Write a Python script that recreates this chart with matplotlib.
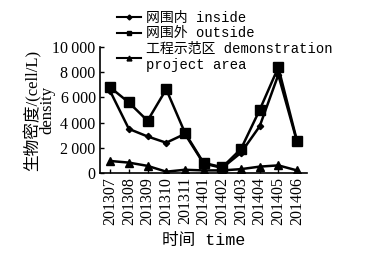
import matplotlib
matplotlib.use('Agg')

import matplotlib.pyplot as plt
from matplotlib.lines import Line2D
import numpy as np

plt.rcParams['font.family'] = ['Liberation Serif', 'Noto Sans CJK SC']
plt.rcParams['axes.unicode_minus'] = False

# data
months = ['201307', '201308', '201309', '201310', '201311', '201401',
          '201402', '201403', '201404', '201405', '201406']
inside = [6500, 3500, 2900, 2400, 3100, 750, 400, 1600, 3700, 7800, 2500]
outside = [6800, 5600, 4150, 6650, 3200, 800, 450, 1900, 5000, 8400, 2550]
demo = [950, 820, 560, 100, 250, 200, 200, 300, 500, 600, 200]
yticks = [0, 2000, 4000, 6000, 8000, 10000]
ytick_labels = ['0', '2\u2009000', '4\u2009000', '6\u2009000', '8\u2009000',
                '10\u2009000']
series_labels = ['网围内 inside', '网围外 outside',
                 '工程示范区 demonstration\nproject area']

mono_cjk = ['Liberation Mono', 'Noto Sans CJK SC']

fig = plt.figure(figsize=(3.77, 2.62), dpi=100)
ax = fig.add_axes([0.265, 0.34, 0.55, 0.48])

x = np.arange(len(months))
ax.plot(x, inside, color='black', lw=1.8, marker='D', ms=3.2)
ax.plot(x, outside, color='black', lw=1.8, marker='s', ms=6.5)
ax.plot(x, demo, color='black', lw=1.8, marker='^', ms=5.5)

ax.set_xlim(-0.55, len(months) - 0.45)
ax.set_ylim(0, 10000)
ax.set_xticks(x)
ax.set_xticklabels(months, rotation=90, fontsize=11.5)
ax.set_yticks(yticks)
ax.set_yticklabels(ytick_labels, fontsize=11.5)
ax.tick_params(direction='in', length=3, width=1, pad=3)
ax.spines['top'].set_visible(False)
ax.spines['right'].set_visible(False)
ax.spines['left'].set_linewidth(1.2)
ax.spines['bottom'].set_linewidth(1.2)

ax.set_ylabel('生物密度/(cell/L)\ndensity', fontsize=12, linespacing=0.85)
ax.yaxis.set_label_coords(-0.215, 0.5)
ax.set_xlabel('时间 time', fontsize=12, family=mono_cjk, labelpad=6)

# legend with smaller markers than the plotted lines
handles = [Line2D([], [], color='black', lw=1.5, marker='D', ms=2.5),
           Line2D([], [], color='black', lw=1.5, marker='s', ms=3.5),
           Line2D([], [], color='black', lw=1.5, marker='^', ms=3.5)]
fig.legend(handles, series_labels, loc='upper left',
           bbox_to_anchor=(0.285, 0.995), frameon=False,
           prop={'family': mono_cjk, 'size': 10},
           handlelength=1.7, handletextpad=0.4, labelspacing=0.1,
           borderpad=0.2)

fig.savefig('out.png', dpi=100)
